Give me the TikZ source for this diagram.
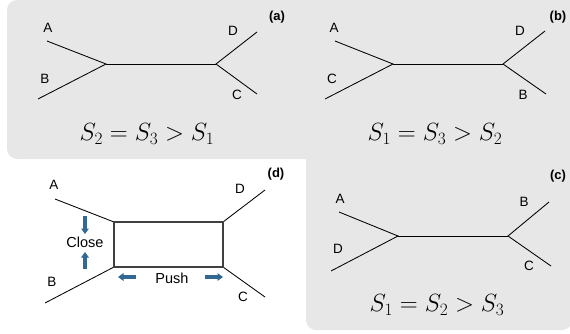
\documentclass[tikz,border=0pt]{standalone}
\usepackage{fontspec}
\setmainfont{Liberation Sans}
\usetikzlibrary{arrows.meta}
\definecolor{panelgray}{HTML}{E7E7E7}
\definecolor{arrowblue}{HTML}{326891}
\definecolor{boxgray}{HTML}{404040}
\tikzset{
  edge/.style={line width=0.85pt, black},
  lbl/.style={font=\fontsize{13.5}{14}\selectfont, inner sep=0pt},
  tag/.style={font=\bfseries\fontsize{13}{14}\selectfont, inner sep=0pt},
  eqn/.style={font=\fontsize{24}{26}\selectfont, inner sep=0pt},
  word/.style={font=\fontsize{14.5}{15}\selectfont, inner sep=0pt},
  barrow/.style={arrowblue, line width=3.3pt, -{Triangle[width=7.5pt,length=5.5pt]}},
  boxline/.style={boxgray, line width=1.3pt}
}
\begin{document}
\begin{tikzpicture}[x=1pt,y=-1pt]
\useasboundingbox (0,0) rectangle (570,333);
% background panels
\fill[panelgray, rounded corners=10pt] (7,0) rectangle (590,159);
\fill[panelgray, rounded corners=10pt] (306,100) rectangle (572,330);

% ---------- panel (a)
\coordinate (aJL) at (106,64);
\coordinate (aJR) at (216,64);
\coordinate (aA) at (47,41);
\coordinate (aB) at (38,99);
\coordinate (aD) at (257,32);
\coordinate (aC) at (257,94);
\draw[edge] (aA) -- (aJL) -- (aB);
\draw[edge] (aJL) -- (aJR);
\draw[edge] (aD) -- (aJR) -- (aC);
\node[lbl] (aAl) at (48,28) {A};
\node[lbl] (aBl) at (45,79) {B};
\node[lbl] (aDl) at (233,31) {D};
\node[lbl] (aCl) at (237,95) {C};
\node[tag] (atag) at (277,17) {(a)};
\node[eqn] (aeq) at (147,134) {$S_2 = S_3 > S_1$};

% ---------- panel (b)
\coordinate (bJL) at (393,64);
\coordinate (bJR) at (503,64);
\coordinate (bA) at (335,41);
\coordinate (bC) at (325,99);
\coordinate (bD) at (545,31);
\coordinate (bB) at (546,94);
\draw[edge] (bA) -- (bJL) -- (bC);
\draw[edge] (bJL) -- (bJR);
\draw[edge] (bD) -- (bJR) -- (bB);
\node[lbl] (bAl) at (334,28) {A};
\node[lbl] (bCl) at (332,79) {C};
\node[lbl] (bDl) at (520,31) {D};
\node[lbl] (bBl) at (523,95) {B};
\node[tag] (btag) at (558,17) {(b)};
\node[eqn] (beq) at (435,134) {$S_1 = S_3 > S_2$};

% ---------- panel (c)
\coordinate (cJL) at (398,236);
\coordinate (cJR) at (508,236);
\coordinate (cA) at (339,212);
\coordinate (cD) at (331,271);
\coordinate (cB) at (549,202);
\coordinate (cC) at (551,266);
\draw[edge] (cA) -- (cJL) -- (cD);
\draw[edge] (cJL) -- (cJR);
\draw[edge] (cB) -- (cJR) -- (cC);
\node[lbl] (cAl) at (340,199) {A};
\node[lbl] (cDl) at (338,249) {D};
\node[lbl] (cBl) at (524,202) {B};
\node[lbl] (cCl) at (529,266) {C};
\node[tag] (ctag) at (558,176) {(c)};
\node[eqn] (ceq) at (437,305) {$S_1 = S_2 > S_3$};

% ---------- panel (d)
\coordinate (dTL) at (114,222);
\coordinate (dTR) at (223,222);
\coordinate (dBR) at (223,267);
\coordinate (dBL) at (114,267);
\coordinate (dA) at (55,199);
\coordinate (dB) at (45,303);
\coordinate (dD) at (265,190);
\coordinate (dC) at (265,297);
\draw[edge] (dA) -- (dTL);
\draw[edge] (dB) -- (dBL);
\draw[edge] (dD) -- (dTR);
\draw[edge] (dC) -- (dBR);
\draw[boxline] (dTL) -- (dTR) -- (dBR) -- (dBL) -- cycle;
\node[lbl] (dAl) at (54,185) {A};
\node[lbl] (dBl) at (52,282) {B};
\node[lbl] (dDl) at (240,189) {D};
\node[lbl] (dCl) at (243,297) {C};
\node[tag] (dtag) at (276,174) {(d)};
\node[word] (close) at (85,242) {Close};
\node[word] (push) at (172,278) {Push};
\coordinate (cu0) at (85,216);
\coordinate (cu1) at (85,234);
\coordinate (cd0) at (85,269);
\coordinate (cd1) at (85,252);
\coordinate (pl0) at (136,277);
\coordinate (pl1) at (118,277);
\coordinate (pr0) at (205,277);
\coordinate (pr1) at (223,277);
\draw[barrow] (cu0) -- (cu1);
\draw[barrow] (cd0) -- (cd1);
\draw[barrow] (pl0) -- (pl1);
\draw[barrow] (pr0) -- (pr1);
\end{tikzpicture}
\end{document}
